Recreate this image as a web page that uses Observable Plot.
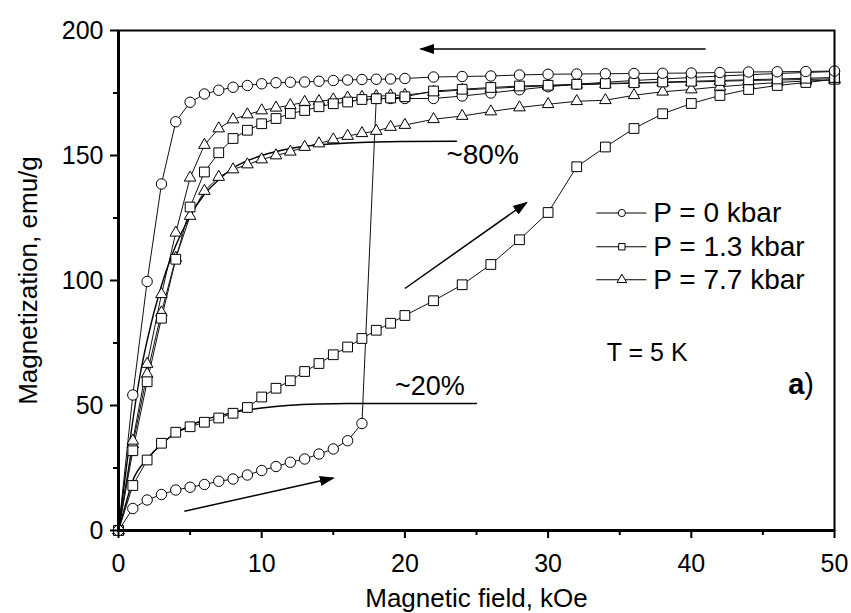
<!DOCTYPE html>
<html>
<head>
<meta charset="utf-8">
<script src="https://cdn.jsdelivr.net/npm/d3@7"></script>
<script src="https://cdn.jsdelivr.net/npm/@observablehq/plot@0.6"></script>
<style>
  html, body { margin: 0; padding: 0; background: #fff; }
  #chart svg { display: block; }
</style>
</head>
<body>
<div id="chart"></div>
<script>
// ---- Data (field kOe, magnetization emu/g) ----
const p0VirginX = [0,1,2,3,4,5,6,7,8,9,10,11,12,13,14,15,16,17,18,19,20,22,24,26,28,30,32,34,36,38,40,42,44,46,48,50];
const p0VirginY = [0,8.8,12.2,14.4,16.2,17.3,18.4,19.7,20.6,22.2,24,25.6,27.3,28.6,30.6,32.6,35.9,42.8,172.8,172.8,172.8,172.8,173.8,175,176.3,177.5,178.5,179.3,180,180.6,181.2,181.8,182.3,182.8,183.2,183.6];
const p0DescX = [50,48,46,44,42,40,38,36,34,32,30,28,26,24,22,20,19,18,17,16,15,14,13,12,11,10,9,8,7,6,5,4,3,2,1,0];
const p0DescY = [183.8,183.6,183.5,183.4,183.2,183,182.9,182.8,182.7,182.6,182.5,182.2,181.8,181.6,181.4,180.8,180.6,180.5,180.4,180.2,180,179.7,179.4,179.3,179.1,178.7,178,177.3,176.1,174.6,171.3,163.5,138.6,99.6,54.2,0];

const p13VirginX = [0,1,2,3,4,5,6,7,8,9,10,11,12,13,14,15,16,17,18,19,20,22,24,26,28,30,32,34,36,38,40,42,44,46,48,50];
const p13VirginY = [0,18,28.2,34.9,39.3,41.5,43.3,45,46.9,49.2,53.4,56.9,59.9,63.6,66.8,70.3,73.4,76.8,80.1,82.9,86,91.9,98.3,106.4,116.3,127.2,145.5,153.4,160.8,166.7,170.8,174,176.4,178,179.2,180.5];
const p13DescX = [50,48,46,44,42,40,38,36,34,32,30,28,26,24,22,20,19,18,17,16,15,14,13,12,11,10,9,8,7,6,5,4,3,2,1,0];
const p13DescY = [181.2,180.9,180.6,180.3,180,179.7,179.4,179.1,178.8,178.5,178.1,177.8,177.2,176.5,175.8,173.5,173,172.7,172.4,171.4,170.7,169.5,168,166.8,164.8,162.7,160.1,156.8,151.1,143.4,129.4,108.5,84.9,59.5,31.9,0];

const p77VirginX = [0,1,2,3,4,5,6,7,8,9,10,11,12,13,14,15,16,17,18,19,20,22,24,26,28,30,32,34,36,38,40,42,44,46,48,50];
const p77VirginY = [0,34.5,62.6,87.2,109,125.8,135.8,141.4,144.4,146.4,148.4,150,151.5,153.4,154.8,156.4,157.8,158.9,159.8,161.4,162.2,164.5,165.8,167.6,169.2,170.5,171.7,172.1,174.1,175.5,176.4,177.5,178.4,179.2,179.8,180.2];
const p77DescX = [50,48,46,44,42,40,38,36,34,32,30,28,26,24,22,20,19,18,17,16,15,14,13,12,11,10,9,8,7,6,5,4,3,2,1,0];
const p77DescY = [180.7,180.4,180.2,180,179.7,179.4,179.2,178.9,178.6,178.3,177.9,177.4,176.8,176.2,175.4,174.2,174,173.7,173.4,173.1,172.4,171.7,171.4,170.1,169.1,168,166.4,164.4,160.8,154.2,141.1,119.1,94.5,66.6,35.9,0];

// saturation guide curves (~80 % and ~20 %)
const fit80X = [0,0.5,1,1.5,2,3,4,5,6,7,8,10,12,14,16,18,20,23.6];
const fit80Y = [0,23,44,62,76,98,114,125.8,134.5,140.3,145,150,152.8,154.3,155,155.4,155.6,155.7];
const fit20X = [0,0.5,1,2,3,4,5,6,8,10,12,14,16,20,25];
const fit20Y = [0,10.5,20,28.6,34.6,38.9,42,44.3,47.2,49,50.1,50.6,50.8,50.8,50.8];

// arrows [x1, y1, x2, y2]
const arrowX1 = [41, 20.0, 4.6];
const arrowY1 = [192.6, 96.8, 7.7];
const arrowX2 = [21.1, 28.5, 15.0];
const arrowY2 = [192.6, 131.2, 21.0];

const seriesNames = ["P = 0 kbar", "P = 1.3 kbar", "P = 7.7 kbar"];
const seriesSymbols = ["circle", "square", "triangle"];
const xMajor = [0,10,20,30,40,50];
const xMinor = [5,15,25,35,45];
const yMajor = [0,50,100,150,200];
const yMinor = [25,75,125,175];

// ---- tables built from the arrays ----
const zip = (xs, ys) => xs.map((x, i) => ({x, y: ys[i]}));
const p0V = zip(p0VirginX, p0VirginY), p0D = zip(p0DescX, p0DescY);
const p13V = zip(p13VirginX, p13VirginY), p13D = zip(p13DescX, p13DescY);
const p77V = zip(p77VirginX, p77VirginY), p77D = zip(p77DescX, p77DescY);
const fit80 = zip(fit80X, fit80Y), fit20 = zip(fit20X, fit20Y);
const arrows = arrowX1.map((x1, i) => ({x1, y1: arrowY1[i], x2: arrowX2[i], y2: arrowY2[i]}));

// legend rows (placed in data space)
const legendRows = seriesNames.map((name, i) => ({name, symbol: seriesSymbols[i], y: [127, 113.5, 100.3][i]}));

const font = "'Liberation Sans', Arial, Helvetica, sans-serif";
const lineStyle = {x: "x", y: "y", stroke: "#111", strokeWidth: 1};

const chart = Plot.plot({
  width: 851,
  height: 613,
  marginLeft: 118,
  marginRight: 17,
  marginTop: 30,
  marginBottom: 83,
  style: {fontFamily: font, fontSize: "25px", background: "white", color: "black", overflow: "visible"},
  x: {domain: [0, 50], label: null},
  y: {domain: [0, 200], label: null},
  symbol: {type: "identity"},
  marks: [
    // data lines
    Plot.line(p0V, lineStyle),
    Plot.line(p0D, lineStyle),
    Plot.line(p13V, lineStyle),
    Plot.line(p13D, lineStyle),
    Plot.line(p77V, lineStyle),
    Plot.line(p77D, lineStyle),
    // guide curves
    Plot.line(fit80, {x: "x", y: "y", curve: "monotone-x", stroke: "black", strokeWidth: 1.4}),
    Plot.line(fit20, {x: "x", y: "y", curve: "monotone-x", stroke: "black", strokeWidth: 1.4}),
    // markers
    Plot.dot(p77V, {x: "x", y: "y", symbol: () => "triangle", r: 4.3, fill: "white", stroke: "black", strokeWidth: 1}),
    Plot.dot(p77D, {x: "x", y: "y", symbol: () => "triangle", r: 4.3, fill: "white", stroke: "black", strokeWidth: 1}),
    Plot.dot(p0V, {x: "x", y: "y", symbol: () => "circle", r: 5.2, fill: "white", stroke: "black", strokeWidth: 1}),
    Plot.dot(p13V, {x: "x", y: "y", symbol: () => "square", r: 5.5, fill: "white", stroke: "black", strokeWidth: 1}),
    Plot.dot(p13D, {x: "x", y: "y", symbol: () => "square", r: 5.5, fill: "white", stroke: "black", strokeWidth: 1}),
    Plot.dot(p0D, {x: "x", y: "y", symbol: () => "circle", r: 5.2, fill: "white", stroke: "black", strokeWidth: 1}),
    // arrows
    Plot.link(arrows, {x1: "x1", y1: "y1", x2: "x2", y2: "y2", stroke: "black", strokeWidth: 1.5, className: "arr"}),
    // annotations
    Plot.text(["~80%"], {x: 22.9, y: 150.2, text: d => d, textAnchor: "start", fontSize: 28}),
    Plot.text(["~20%"], {x: 19.3, y: 57.5, text: d => d, textAnchor: "start", fontSize: 27}),
    Plot.text(["T = 5 K"], {x: 34.1, y: 71.1, text: d => d, textAnchor: "start", fontSize: 25}),
    // legend
    Plot.ruleY(legendRows, {x1: 33.4, x2: 36.9, y: "y", stroke: "black", strokeWidth: 1}),
    Plot.dot(legendRows, {x: 35.15, y: "y", symbol: "symbol", r: 3.6, fill: "white", stroke: "black", strokeWidth: 1}),
    Plot.text(legendRows, {x: 37.35, y: "y", text: "name", textAnchor: "start", fontSize: 28}),
    // axes
    Plot.axisX(xMajor, {tickSize: 8, tickPadding: 16, strokeWidth: 2, fontSize: 25, label: null}),
    Plot.axisX(xMinor, {tickSize: 5, strokeWidth: 2, text: null, label: null}),
    Plot.axisY(yMajor, {tickSize: 8, tickPadding: 7, strokeWidth: 2, fontSize: 25, label: null}),
    Plot.axisY(yMinor, {tickSize: 5, strokeWidth: 2, text: null, label: null}),
    Plot.frame({stroke: "black", strokeWidth: 2}),
    Plot.ruleX([0], {stroke: "black", strokeWidth: 3}),
    Plot.ruleY([0], {stroke: "black", strokeWidth: 3}),
    // axis titles
    Plot.text(["Magnetic field, kOe"], {frameAnchor: "bottom", dy: 68, lineAnchor: "middle", textAnchor: "middle", text: d => d, fontSize: 26}),
    Plot.text(["Magnetization, emu/g"], {frameAnchor: "left", dx: -90, rotate: -90, textAnchor: "middle", lineAnchor: "middle", text: d => d, fontSize: 26})
  ]
});

document.getElementById("chart").appendChild(chart);
const svg = d3.select(chart);

// filled arrowheads
const defs = svg.insert("defs", ":first-child");
defs.append("marker")
  .attr("id", "arrowhead")
  .attr("viewBox", "0 0 10 10")
  .attr("refX", 9).attr("refY", 5)
  .attr("markerWidth", 15).attr("markerHeight", 15)
  .attr("markerUnits", "userSpaceOnUse")
  .attr("orient", "auto")
  .append("path").attr("d", "M0,1.6L10,5L0,8.4Z").attr("fill", "black");
svg.selectAll(".arr path").attr("marker-end", "url(#arrowhead)");

// "a)" annotation (bold a) positioned with the chart's own scales
const sx = chart.scale("x"), sy = chart.scale("y");
const aLabel = svg.append("text")
  .attr("x", sx.apply(47.7)).attr("y", sy.apply(58.5))
  .attr("dy", "0.35em")
  .attr("font-family", font).attr("font-size", 29);
aLabel.append("tspan").attr("font-weight", "bold").text("a");
aLabel.append("tspan").text(")");
</script>
</body>
</html>
